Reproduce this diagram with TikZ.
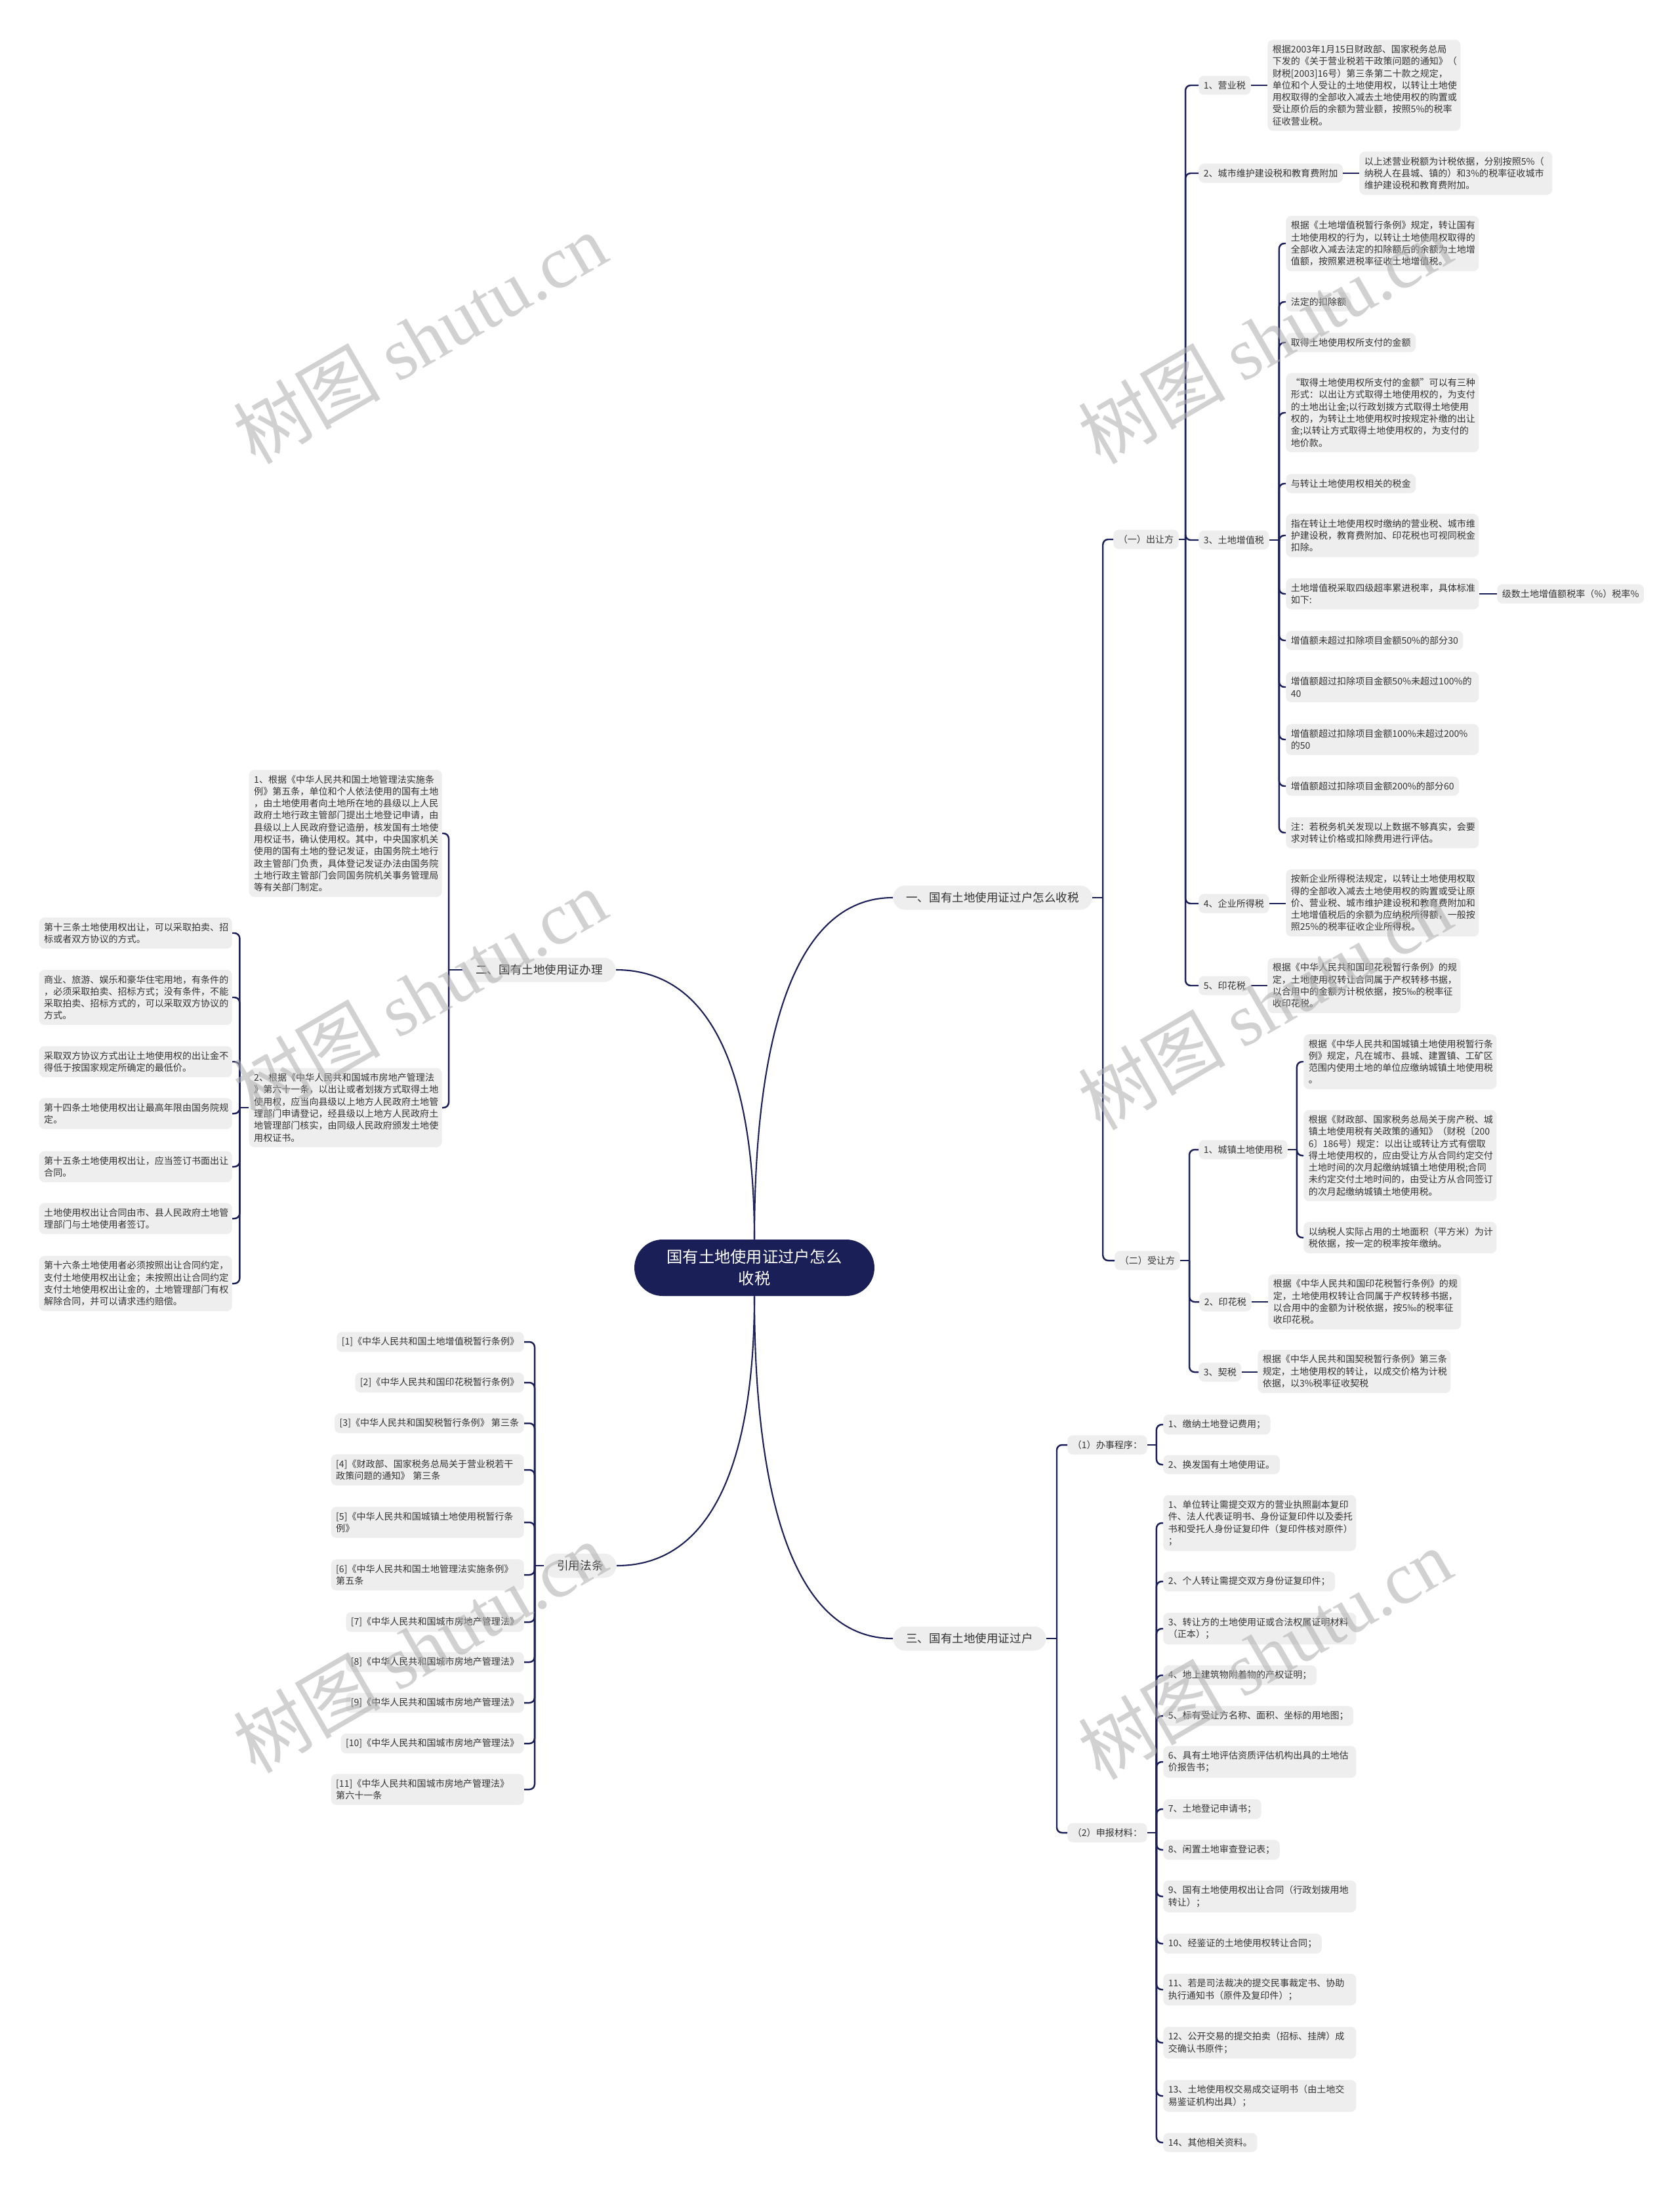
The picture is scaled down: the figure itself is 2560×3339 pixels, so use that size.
\documentclass[tikz,border=0pt]{standalone}
\usepackage{fontspec}
\setmainfont{Noto Sans CJK SC}
\newfontfamily\wmserif{Liberation Serif}
\usepackage{tikz}
\usetikzlibrary{positioning,calc}

\definecolor{linenavy}{HTML}{1B1F57}
\definecolor{boxgray}{HTML}{EEEEEE}
\definecolor{txt}{HTML}{333333}

% parent -> children, bracket to the right / to the left
\newcommand{\rlinks}[3]{%
  \draw[link] (#1.east) -- ++(#3,0);
  \foreach \kid in {#2}{\draw[link] (#1.east) ++(#3,0) |- (\kid.west);}
}
\newcommand{\llinks}[3]{%
  \draw[link] (#1.west) -- ++(-#3,0);
  \foreach \kid in {#2}{\draw[link] (#1.west) ++(-#3,0) |- (\kid.east);}
}
\newcommand{\straight}[2]{\draw[link] (#1.east) -- (#1.east -| #2.west);}

\begin{document}
\begin{tikzpicture}[x=0.02cm, y=-0.02cm,
    every node/.style={text=txt, font=\fontsize{8}{10.4}\selectfont},
    rootbox/.style={rectangle, rounded corners=0.86cm, fill=linenavy, text=white, minimum width=7.32cm, minimum height=1.72cm, align=center, font=\fontsize{13.8}{18.7}\selectfont},
    mainbox/.style={rectangle, rounded corners=0.37cm, fill=boxgray, minimum height=0.74cm, inner xsep=0.4cm, font=\fontsize{10}{12}\selectfont},
    itembox/.style={rectangle, rounded corners=0.16cm, fill=boxgray, inner xsep=0.15cm, inner ysep=0.16cm, align=left},
    notebox/.style={itembox, text width=5.58cm},
    link/.style={draw=linenavy, line width=1.4pt, rounded corners=0.16cm},
    trunk/.style={draw=linenavy, line width=1.2pt},
    wmark/.style={text=black!32, text opacity=0.55, rotate=30, font=\fontsize{64}{64}\selectfont}
]
\fill[white] (0,0) rectangle (2560,3339);
\useasboundingbox (0,0) rectangle (2560,3339);

% Centre
\node[rootbox] (root) at (1150,1932) {国有土地使用证过户怎么\\收税};

% Main branches
\node[mainbox, anchor=west] (yi) at (1361,1368) {一、国有土地使用证过户怎么收税};
\node[mainbox, anchor=east] (er) at (939,1478) {二、国有土地使用证办理};
\node[mainbox, anchor=west] (san) at (1361,2497) {三、国有土地使用证过户};
\node[mainbox, anchor=east] (yinyong) at (940,2386) {引用法条};

% One: seller and buyer
\node[itembox, anchor=west] (churang) at (1697,822) {（一）出让方};
\node[itembox, anchor=west] (shourang) at (1699,1921) {（二）受让方};

% Seller taxes
\node[itembox, anchor=west] (yingye) at (1827,130) {1、营业税};
\node[notebox, anchor=west] (yingyeD) at (1932,130) {根据2003年1月15日财政部、国家税务总局\\下发的《关于营业税若干政策问题的通知》（\\财税[2003]16号）第三条第二十款之规定，\\单位和个人受让的土地使用权，以转让土地使\\用权取得的全部收入减去土地使用权的购置或\\受让原价后的余额为营业额，按照5\%的税率\\征收营业税。};
\node[itembox, anchor=west] (chengjian) at (1827,264) {2、城市维护建设税和教育费附加};
\node[notebox, anchor=west] (chengjianD) at (2072,264) {以上述营业税额为计税依据，分别按照5\%（\\纳税人在县城、镇的）和3\%的税率征收城市\\维护建设税和教育费附加。};
\node[itembox, anchor=west] (zengzhi) at (1827,823) {3、土地增值税};
\node[notebox, anchor=west] (z1) at (1960,371) {根据《土地增值税暂行条例》规定，转让国有\\土地使用权的行为，以转让土地使用权取得的\\全部收入减去法定的扣除额后的余额为土地增\\值额，按照累进税率征收土地增值税。};
\node[itembox, anchor=west] (z2) at (1960,460) {法定的扣除额};
\node[itembox, anchor=west] (z3) at (1960,522) {取得土地使用权所支付的金额};
\node[notebox, anchor=west] (z4) at (1960,629) {“取得土地使用权所支付的金额”可以有三种\\形式：以出让方式取得土地使用权的，为支付\\的土地出让金;以行政划拨方式取得土地使用\\权的，为转让土地使用权时按规定补缴的出让\\金;以转让方式取得土地使用权的，为支付的\\地价款。};
\node[itembox, anchor=west] (z5) at (1960,737) {与转让土地使用权相关的税金};
\node[notebox, anchor=west] (z6) at (1960,816) {指在转让土地使用权时缴纳的营业税、城市维\\护建设税，教育费附加、印花税也可视同税金\\扣除。};
\node[notebox, anchor=west] (z7) at (1960,905) {土地增值税采取四级超率累进税率，具体标准\\如下:};
\node[itembox, anchor=west] (z7a) at (2282,905) {级数土地增值额税率（\%）税率\%};
\node[itembox, anchor=west] (z8) at (1960,976) {增值额未超过扣除项目金额50\%的部分30};
\node[notebox, anchor=west] (z9) at (1960,1047) {增值额超过扣除项目金额50\%未超过100\%的\\40};
\node[notebox, anchor=west] (z10) at (1960,1127) {增值额超过扣除项目金额100\%未超过200\%\\的50};
\node[itembox, anchor=west] (z11) at (1960,1198) {增值额超过扣除项目金额200\%的部分60};
\node[notebox, anchor=west] (z12) at (1960,1269) {注：若税务机关发现以上数据不够真实，会要\\求对转让价格或扣除费用进行评估。};
\node[itembox, anchor=west] (qiye) at (1827,1377) {4、企业所得税};
\node[notebox, anchor=west] (qiyeD) at (1960,1376) {按新企业所得税法规定，以转让土地使用权取\\得的全部收入减去土地使用权的购置或受让原\\价、营业税、城市维护建设税和教育费附加和\\土地增值税后的余额为应纳税所得额，一般按\\照25\%的税率征收企业所得税。};
\node[itembox, anchor=west] (yinhuaA) at (1827,1502) {5、印花税};
\node[notebox, anchor=west] (yinhuaAD) at (1932,1502) {根据《中华人民共和国印花税暂行条例》的规\\定，土地使用权转让合同属于产权转移书据，\\以合用中的金额为计税依据，按5‰的税率征\\收印花税。};

% Buyer taxes
\node[itembox, anchor=west] (chengzhen) at (1827,1752) {1、城镇土地使用税};
\node[notebox, anchor=west] (c1) at (1987,1618) {根据《中华人民共和国城镇土地使用税暂行条\\例》规定，凡在城市、县城、建置镇、工矿区\\范围内使用土地的单位应缴纳城镇土地使用税\\。};
\node[notebox, anchor=west] (c2) at (1987,1761) {根据《财政部、国家税务总局关于房产税、城\\镇土地使用税有关政策的通知》（财税〔200\\6〕186号）规定：以出让或转让方式有偿取\\得土地使用权的，应由受让方从合同约定交付\\土地时间的次月起缴纳城镇土地使用税;合同\\未约定交付土地时间的，由受让方从合同签订\\的次月起缴纳城镇土地使用税。};
\node[notebox, anchor=west] (c3) at (1987,1886) {以纳税人实际占用的土地面积（平方米）为计\\税依据，按一定的税率按年缴纳。};
\node[itembox, anchor=west] (yinhuaB) at (1828,1984) {2、印花税};
\node[notebox, anchor=west] (yinhuaBD) at (1933,1984) {根据《中华人民共和国印花税暂行条例》的规\\定，土地使用权转让合同属于产权转移书据，\\以合用中的金额为计税依据，按5‰的税率征\\收印花税。};
\node[itembox, anchor=west] (qishui) at (1827,2091) {3、契税};
\node[notebox, anchor=west] (qishuiD) at (1917,2090) {根据《中华人民共和国契税暂行条例》第三条\\规定，土地使用权的转让，以成交价格为计税\\依据，以3\%税率征收契税};

% Three: procedure and materials
\node[itembox, anchor=west] (banshi) at (1627,2202) {（1）办事程序：};
\node[itembox, anchor=west] (b1) at (1773,2171) {1、缴纳土地登记费用；};
\node[itembox, anchor=west] (b2) at (1773,2232) {2、换发国有土地使用证。};
\node[itembox, anchor=west] (shenbao) at (1627,2793) {（2）申报材料：};
\node[notebox, anchor=west] (s1) at (1773,2321) {1、单位转让需提交双方的营业执照副本复印\\件、法人代表证明书、身份证复印件以及委托\\书和受托人身份证复印件（复印件核对原件）\\；};
\node[itembox, anchor=west] (s2) at (1773,2410) {2、个人转让需提交双方身份证复印件；};
\node[notebox, anchor=west] (s3) at (1773,2482) {3、转让方的土地使用证或合法权属证明材料\\（正本）；};
\node[itembox, anchor=west] (s4) at (1773,2553) {4、地上建筑物附着物的产权证明；};
\node[itembox, anchor=west] (s5) at (1773,2615) {5、标有受让方名称、面积、坐标的用地图；};
\node[notebox, anchor=west] (s6) at (1773,2685) {6、具有土地评估资质评估机构出具的土地估\\价报告书；};
\node[itembox, anchor=west] (s7) at (1773,2757) {7、土地登记申请书；};
\node[itembox, anchor=west] (s8) at (1773,2819) {8、闲置土地审查登记表；};
\node[notebox, anchor=west] (s9) at (1773,2890) {9、国有土地使用权出让合同（行政划拨用地\\转让）；};
\node[itembox, anchor=west] (s10) at (1773,2962) {10、经鉴证的土地使用权转让合同；};
\node[notebox, anchor=west] (s11) at (1773,3032) {11、若是司法裁决的提交民事裁定书、协助\\执行通知书（原件及复印件）；};
\node[notebox, anchor=west] (s12) at (1773,3113) {12、公开交易的提交拍卖（招标、挂牌）成\\交确认书原件；};
\node[notebox, anchor=west] (s13) at (1773,3194) {13、土地使用权交易成交证明书（由土地交\\易鉴证机构出具）；};
\node[itembox, anchor=west] (s14) at (1773,3265) {14、其他相关资料。};

% Two: certificate handling (left)
\node[notebox, anchor=east] (l1) at (674,1270) {1、根据《中华人民共和国土地管理法实施条\\例》第五条，单位和个人依法使用的国有土地\\，由土地使用者向土地所在地的县级以上人民\\政府土地行政主管部门提出土地登记申请，由\\县级以上人民政府登记造册，核发国有土地使\\用权证书，确认使用权。其中，中央国家机关\\使用的国有土地的登记发证，由国务院土地行\\政主管部门负责，具体登记发证办法由国务院\\土地行政主管部门会同国务院机关事务管理局\\等有关部门制定。};
\node[notebox, anchor=east] (l2) at (674,1688) {2、根据《中华人民共和国城市房地产管理法\\》第六十一条，以出让或者划拨方式取得土地\\使用权，应当向县级以上地方人民政府土地管\\理部门申请登记，经县级以上地方人民政府土\\地管理部门核实，由同级人民政府颁发土地使\\用权证书。};
\node[notebox, anchor=east] (k1) at (354,1422) {第十三条土地使用权出让，可以采取拍卖、招\\标或者双方协议的方式。};
\node[notebox, anchor=east] (k2) at (354,1520) {商业、旅游、娱乐和豪华住宅用地，有条件的\\，必须采取拍卖、招标方式；没有条件，不能\\采取拍卖、招标方式的，可以采取双方协议的\\方式。};
\node[notebox, anchor=east] (k3) at (354,1618) {采取双方协议方式出让土地使用权的出让金不\\得低于按国家规定所确定的最低价。};
\node[notebox, anchor=east] (k4) at (354,1697) {第十四条土地使用权出让最高年限由国务院规\\定。};
\node[notebox, anchor=east] (k5) at (354,1778) {第十五条土地使用权出让，应当签订书面出让\\合同。};
\node[notebox, anchor=east] (k6) at (354,1857) {土地使用权出让合同由市、县人民政府土地管\\理部门与土地使用者签订。};
\node[notebox, anchor=east] (k7) at (354,1956) {第十六条土地使用者必须按照出让合同约定，\\支付土地使用权出让金；未按照出让合同约定\\支付土地使用权出让金的，土地管理部门有权\\解除合同，并可以请求违约赔偿。};

% Cited laws (left)
\node[itembox, anchor=east] (r1) at (799,2045) {[1]《中华人民共和国土地增值税暂行条例》};
\node[itembox, anchor=east] (r2) at (799,2107) {[2]《中华人民共和国印花税暂行条例》};
\node[itembox, anchor=east] (r3) at (799,2169) {[3]《中华人民共和国契税暂行条例》 第三条};
\node[notebox, anchor=east] (r4) at (799,2240) {[4]《财政部、国家税务总局关于营业税若干\\政策问题的通知》 第三条};
\node[notebox, anchor=east] (r5) at (799,2320) {[5]《中华人民共和国城镇土地使用税暂行条\\例》};
\node[notebox, anchor=east] (r6) at (799,2400) {[6]《中华人民共和国土地管理法实施条例》\\第五条};
\node[itembox, anchor=east] (r7) at (799,2472) {[7]《中华人民共和国城市房地产管理法》};
\node[itembox, anchor=east] (r8) at (799,2533) {[8]《中华人民共和国城市房地产管理法》};
\node[itembox, anchor=east] (r9) at (799,2595) {[9]《中华人民共和国城市房地产管理法》};
\node[itembox, anchor=east] (r10) at (799,2657) {[10]《中华人民共和国城市房地产管理法》};
\node[notebox, anchor=east] (r11) at (799,2727) {[11]《中华人民共和国城市房地产管理法》\\第六十一条};

% Trunk curves from the centre
\coordinate (kyi) at (root.north |- yi.west);
\coordinate (ker) at (root.north |- er.east);
\coordinate (ksan) at (root.south |- san.west);
\coordinate (kyy) at (root.south |- yinyong.east);
\draw[trunk] (root.north) .. controls ($(root.north)!0.55!(kyi)$) and ($(kyi)!0.25!(yi.west)$) .. (yi.west);
\draw[trunk] (root.north) .. controls ($(root.north)!0.55!(ker)$) and ($(ker)!0.25!(er.east)$) .. (er.east);
\draw[trunk] (root.south) .. controls ($(root.south)!0.55!(ksan)$) and ($(ksan)!0.25!(san.west)$) .. (san.west);
\draw[trunk] (root.south) .. controls ($(root.south)!0.55!(kyy)$) and ($(kyy)!0.25!(yinyong.east)$) .. (yinyong.east);

% Brackets
\rlinks{yi}{churang,shourang}{16}
\rlinks{churang}{yingye,chengjian,zengzhi,qiye,yinhuaA}{10}
\rlinks{zengzhi}{z1,z2,z3,z4,z5,z6,z7,z8,z9,z10,z11,z12}{15}
\rlinks{shourang}{chengzhen,yinhuaB,qishui}{14}
\rlinks{chengzhen}{c1,c2,c3}{14}
\rlinks{san}{banshi,shenbao}{16}
\rlinks{banshi}{b1,b2}{14}
\rlinks{shenbao}{s1,s2,s3,s4,s5,s6,s7,s8,s9,s10,s11,s12,s13,s14}{14}
\llinks{er}{l1,l2}{21}
\llinks{l2}{k1,k2,k3,k4,k5,k6,k7}{14}
\llinks{yinyong}{r1,r2,r3,r4,r5,r6,r7,r8,r9,r10,r11}{14}

% Single leaves
\straight{yingye}{yingyeD}
\straight{chengjian}{chengjianD}
\straight{z7}{z7a}
\straight{qiye}{qiyeD}
\straight{yinhuaA}{yinhuaAD}
\straight{yinhuaB}{yinhuaBD}
\straight{qishui}{qishuiD}

% Watermarks
\node[wmark] (wm1) at (640,515) {树图 {\wmserif shutu.cn}};
\node[wmark] (wm2) at (1928,515) {树图 {\wmserif shutu.cn}};
\node[wmark] (wm3) at (640,1515) {树图 {\wmserif shutu.cn}};
\node[wmark] (wm4) at (1928,1530) {树图 {\wmserif shutu.cn}};
\node[wmark] (wm5) at (640,2510) {树图 {\wmserif shutu.cn}};
\node[wmark] (wm6) at (1928,2520) {树图 {\wmserif shutu.cn}};
\end{tikzpicture}
\end{document}
